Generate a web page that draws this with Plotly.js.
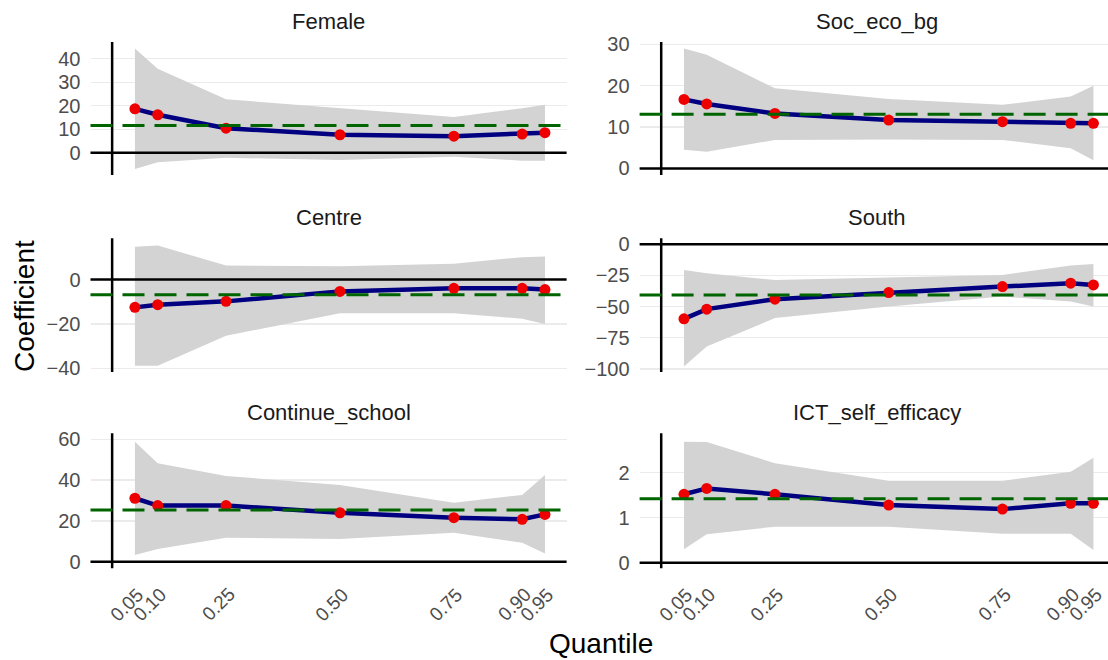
<!DOCTYPE html>
<html><head><meta charset="utf-8">
<script src="https://cdn.plot.ly/plotly-3.0.1.min.js"></script>
<style>html,body{margin:0;padding:0;background:#fff;} #chart{width:1108px;height:660px;}</style>
</head><body><div id="chart"></div>
<script>
// ---------- DATA ----------
const quantiles = [0.05, 0.10, 0.25, 0.50, 0.75, 0.90, 0.95];
const quantileLabels = ["0.05", "0.10", "0.25", "0.50", "0.75", "0.90", "0.95"];
const panelNames = ["Female", "Soc_eco_bg", "Centre", "South", "Continue_school", "ICT_self_efficacy"];

const femaleCoef  = [18.7, 16.2, 10.5, 7.7, 7.1, 8.0, 8.6];
const femaleLower = [-6.8, -4.0, -2.1, -3.0, -1.6, -3.3, -3.3];
const femaleUpper = [44.3, 35.7, 22.8, 19.0, 15.2, 19.0, 20.4];

const socCoef  = [16.7, 15.6, 13.3, 11.7, 11.3, 10.9, 10.9];
const socLower = [4.5, 4.0, 6.9, 7.0, 6.9, 4.9, 2.0];
const socUpper = [29.0, 27.5, 19.4, 16.8, 15.4, 17.4, 20.0];

const centreCoef  = [-12.5, -11.3, -9.8, -5.3, -3.9, -3.9, -4.5];
const centreLower = [-38.8, -38.8, -25.3, -15.1, -15.1, -17.6, -20.0];
const centreUpper = [14.8, 15.4, 6.3, 6.0, 7.1, 10.1, 10.4];

const southCoef  = [-59.8, -52.0, -44.0, -38.7, -33.9, -31.2, -32.6];
const southLower = [-97.9, -81.9, -59.2, -49.9, -41.9, -45.9, -49.9];
const southUpper = [-20.6, -23.2, -28.6, -26.7, -24.6, -17.1, -15.8];

const schoolCoef  = [31.1, 27.5, 27.5, 24.0, 21.6, 20.8, 23.2];
const schoolLower = [3.3, 6.2, 11.8, 11.1, 14.2, 9.3, 4.1];
const schoolUpper = [58.8, 48.2, 42.0, 37.6, 28.9, 32.7, 42.5];

const ictCoef  = [1.52, 1.65, 1.52, 1.28, 1.19, 1.32, 1.32];
const ictLower = [0.30, 0.63, 0.80, 0.80, 0.64, 0.64, 0.28];
const ictUpper = [2.69, 2.68, 2.21, 1.82, 1.82, 2.02, 2.33];

const olsCoef = [11.6, 13.1, -6.8, -40.6, 25.3, 1.42];

const yTicksFemale = [0, 10, 20, 30, 40];
const yTicksSoc    = [0, 10, 20, 30];
const yTicksCentre = [-40, -20, 0];
const yTicksSouth  = [-100, -75, -50, -25, 0];
const yTicksSchool = [0, 20, 40, 60];
const yTicksIct    = [0, 1, 2];

// ---------- LAYOUT HELPERS ----------
const W = 1108, H = 660;
const px = p => p / W, py = p => 1 - p / H;
const FONT = "Liberation Sans, Arial, sans-serif";
const colPix = [[90.5, 566.6], [639.6, 1108]];
const colRange = [[-0.0475, 0.9975], [-0.0475, 0.982]];
const colCenter = [328.6, 877];
const rowPix = [[42, 175], [238.3, 372], [433.3, 568.3]];
const yRanges = [[-9.4, 47.1], [-1.6, 30.6], [-41.6, 18.6], [-102.4, 4.8], [-3.2, 62.9], [-0.126, 2.876]];

const panels = [
  {coef: femaleCoef, lower: femaleLower, upper: femaleUpper, ticks: yTicksFemale},
  {coef: socCoef, lower: socLower, upper: socUpper, ticks: yTicksSoc},
  {coef: centreCoef, lower: centreLower, upper: centreUpper, ticks: yTicksCentre},
  {coef: southCoef, lower: southLower, upper: southUpper, ticks: yTicksSouth},
  {coef: schoolCoef, lower: schoolLower, upper: schoolUpper, ticks: yTicksSchool},
  {coef: ictCoef, lower: ictLower, upper: ictUpper, ticks: yTicksIct}
];

const traces = [];
const shapes = [];
const annotations = [];
const layout = {
  width: W, height: H,
  margin: {l: 0, r: 0, t: 0, b: 0},
  paper_bgcolor: "#ffffff", plot_bgcolor: "rgba(0,0,0,0)",
  showlegend: false,
  font: {family: FONT, color: "#4d4d4d"}
};

panels.forEach((p, i) => {
  const s = i === 0 ? "" : String(i + 1);
  const row = Math.floor(i / 2), col = i % 2;
  const xa = "x" + s, ya = "y" + s;

  traces.push({
    type: "scatter", mode: "lines", xaxis: xa, yaxis: ya,
    x: quantiles.concat(quantiles.slice().reverse()),
    y: p.upper.concat(p.lower.slice().reverse()),
    fill: "toself", fillcolor: "#d3d3d3", line: {width: 0, color: "#d3d3d3"},
    hoverinfo: "skip"
  });
  traces.push({
    type: "scatter", mode: "lines", xaxis: xa, yaxis: ya,
    x: quantiles, y: p.coef, line: {color: "#000080", width: 4.5}
  });
  traces.push({
    type: "scatter", mode: "markers", xaxis: xa, yaxis: ya,
    x: quantiles, y: p.coef, marker: {color: "#ee0000", size: 11}
  });

  // zero reference lines
  shapes.push({type: "line", layer: "above", xref: xa + " domain", yref: ya,
    x0: 0, x1: 1, y0: 0, y1: 0, line: {color: "#000000", width: 2.5}});
  shapes.push({type: "line", layer: "above", xref: xa, yref: ya + " domain",
    x0: 0, x1: 0, y0: 0, y1: 1, line: {color: "#000000", width: 2.5}});
  // OLS estimate
  shapes.push({type: "line", layer: "above", xref: xa + " domain", yref: ya,
    x0: 0, x1: 1, y0: olsCoef[i], y1: olsCoef[i],
    line: {color: "#006400", width: 3, dash: "22px,10px"}});

  layout["xaxis" + s] = {
    domain: [px(colPix[col][0]), px(colPix[col][1])],
    range: colRange[col], anchor: ya,
    showgrid: false, zeroline: false, showline: false, ticks: "",
    tickmode: "array", tickvals: quantiles, ticktext: quantileLabels,
    showticklabels: false
  };
  layout["yaxis" + s] = {
    domain: [py(rowPix[row][1]), py(rowPix[row][0])],
    range: yRanges[i], anchor: xa,
    showgrid: true, gridcolor: "#ebebeb", gridwidth: 1.2,
    zeroline: false, showline: false, ticks: "",
    tickmode: "array", tickvals: p.ticks,
    tickfont: {size: 20, color: "#4d4d4d", family: FONT},
    ticklabelstandoff: 9
  };

  // rotated quantile labels under the bottom row, centred on each quantile
  if (row === 2) {
    quantiles.forEach((q, k) => {
      annotations.push({
        text: quantileLabels[k], xref: xa, yref: ya + " domain",
        x: q, y: 0, xanchor: "center", yanchor: "middle",
        yshift: -36, xshift: -8, textangle: -45, showarrow: false,
        borderpad: 0,
        font: {size: 19, color: "#4d4d4d", family: FONT}
      });
    });
  }

  annotations.push({
    text: panelNames[i], xref: "paper", yref: "paper",
    x: px(colCenter[col]), y: py(rowPix[row][0] - 21),
    xanchor: "center", yanchor: "middle", showarrow: false,
    font: {size: 22, color: "#1a1a1a", family: FONT}
  });
});

annotations.push({
  text: "Quantile", xref: "paper", yref: "paper",
  x: px(601), y: py(643), xanchor: "center", yanchor: "middle", showarrow: false,
  font: {size: 28, color: "#000000", family: FONT}
});
annotations.push({
  text: "Coefficient", xref: "paper", yref: "paper",
  x: px(24), y: py(306), xanchor: "center", yanchor: "middle", showarrow: false,
  textangle: -90,
  font: {size: 28, color: "#000000", family: FONT}
});

layout.shapes = shapes;
layout.annotations = annotations;

Plotly.newPlot("chart", traces, layout, {staticPlot: true, displayModeBar: false});
</script>
</body></html>
